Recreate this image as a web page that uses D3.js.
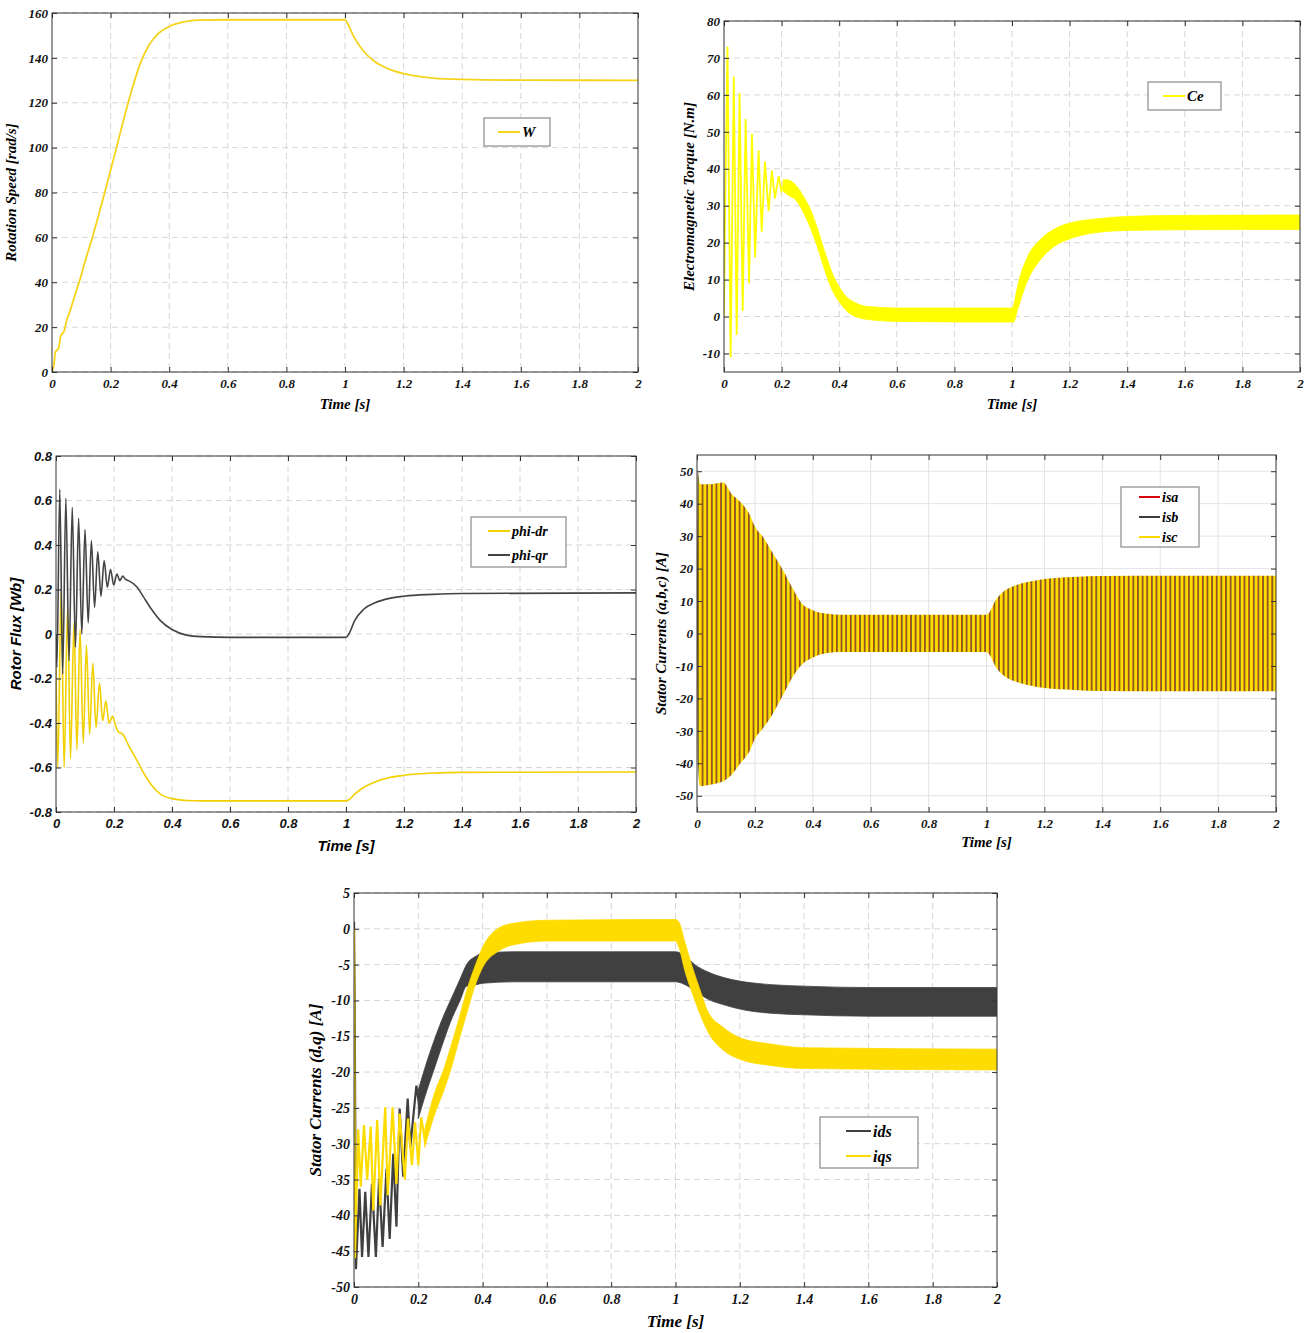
<!DOCTYPE html>
<html>
<head>
<meta charset="utf-8">
<script src="https://cdn.jsdelivr.net/npm/d3@7"></script>
<style>
  body { margin: 0; background: #fff; }
</style>
</head>
<body>
<script>
// tick values
var timeTicks = [0, 0.2, 0.4, 0.6, 0.8, 1, 1.2, 1.4, 1.6, 1.8, 2];
var speedTicks = [0, 20, 40, 60, 80, 100, 120, 140, 160];
var torqueTicks = [-10, 0, 10, 20, 30, 40, 50, 60, 70, 80];
var fluxTicks = [-0.8, -0.6, -0.4, -0.2, 0, 0.2, 0.4, 0.6, 0.8];
var iabcTicks = [-50, -40, -30, -20, -10, 0, 10, 20, 30, 40, 50];
var idqTicks = [-50, -45, -40, -35, -30, -25, -20, -15, -10, -5, 0, 5];

// rotation speed W [t, value]
var speedW = [[0,0],[0.006,3],[0.012,9],[0.022,10.5],[0.03,16],[0.042,18.5],[0.05,23],[0.06,26.5],[0.068,30],[0.08,35],
  [0.095,41],[0.11,48],[0.14,61],[0.18,80],[0.22,100],[0.26,120],[0.3,137],[0.33,145.5],[0.36,150.5],[0.4,154],
  [0.45,156],[0.5,156.8],[0.6,157],[1.0,157],[1.01,155],[1.03,149.5],[1.06,143.5],[1.1,138.5],[1.15,135],
  [1.2,133],[1.3,131],[1.4,130.4],[1.6,130.1],[2,130]];

// electromagnetic torque: start-up oscillation, then band [t, upper, lower]
var torqueStart = [[0,0],[0.004,30],[0.012,73],[0.023,-11],[0.034,65],[0.044,-5],[0.054,60.5],[0.065,1.5],
  [0.075,53.5],[0.087,9],[0.097,49.5],[0.108,16],[0.12,45],[0.131,23],[0.142,42],[0.155,28.5],[0.166,39.5],
  [0.177,32],[0.19,38],[0.199,34],[0.21,36]];
var torqueBand = [[0.205,37,34],[0.22,37,33],[0.25,35.5,31.5],[0.28,32,27.5],[0.3,29,24],[0.33,22.5,17.5],
  [0.35,17.5,12.5],[0.38,11,6.5],[0.4,8,4],[0.43,5,1.2],[0.45,4,0.2],[0.5,2.7,-0.8],[0.6,2.3,-1.3],[1.0,2.3,-1.5],
  [1.005,3,-1.5],[1.02,8.5,2],[1.05,15.5,9],[1.1,21,15.5],[1.15,23.8,19.2],[1.2,25.3,21],[1.3,26.5,22.8],
  [1.4,27.1,23.3],[1.6,27.4,23.5],[2,27.5,23.6]];

// rotor flux
var phiQr = [[0,0],[0.003,-0.15],[0.013,0.65],[0.023,-0.18],[0.034,0.61],[0.045,-0.12],[0.056,0.57],[0.067,-0.06],
  [0.078,0.52],[0.089,0.0],[0.1,0.47],[0.111,0.05],[0.122,0.42],[0.133,0.12],[0.144,0.37],[0.155,0.17],
  [0.166,0.33],[0.177,0.21],[0.188,0.29],[0.199,0.22],[0.21,0.27],[0.22,0.24],[0.23,0.26],[0.24,0.245],
  [0.25,0.24],[0.28,0.21],[0.3,0.17],[0.33,0.11],[0.36,0.06],[0.4,0.02],[0.45,-0.005],[0.5,-0.012],[0.6,-0.015],
  [1.0,-0.015],[1.01,0.0],[1.03,0.06],[1.06,0.11],[1.1,0.14],[1.15,0.16],[1.2,0.17],[1.3,0.178],[1.4,0.182],[2,0.185]];
var phiDr = [[0,-0.15],[0.006,-0.6],[0.018,0.2],[0.028,-0.6],[0.04,0.12],[0.05,-0.56],[0.062,0.05],[0.072,-0.52],
  [0.083,0.02],[0.094,-0.49],[0.105,-0.05],[0.116,-0.45],[0.127,-0.13],[0.138,-0.42],[0.15,-0.22],[0.161,-0.39],
  [0.172,-0.3],[0.183,-0.4],[0.195,-0.37],[0.205,-0.41],[0.215,-0.44],[0.23,-0.45],[0.25,-0.5],[0.28,-0.57],
  [0.3,-0.62],[0.33,-0.68],[0.36,-0.72],[0.4,-0.74],[0.45,-0.748],[0.5,-0.75],[1.0,-0.75],[1.01,-0.745],
  [1.03,-0.72],[1.06,-0.69],[1.1,-0.665],[1.15,-0.645],[1.2,-0.635],[1.3,-0.625],[1.4,-0.622],[2,-0.62]];

// stator currents a,b,c : envelope [t, upper, lower]
var iabcEnvelope = [[0,18,-3],[0.003,50,-40],[0.01,46,-47],[0.05,46,-46.5],[0.09,46.5,-45.5],[0.12,43,-43.5],
  [0.15,40.5,-40],[0.18,37,-36.5],[0.2,33,-32.5],[0.23,29.5,-29],[0.26,25,-25],[0.3,19,-18.5],[0.33,14,-13.5],
  [0.36,9.5,-9.8],[0.4,7.2,-7.4],[0.45,6.1,-6],[0.5,5.8,-5.7],[1.0,5.8,-5.7],[1.01,6.5,-6.5],[1.03,10,-10],
  [1.06,13,-13],[1.1,14.8,-14.8],[1.15,16,-16],[1.2,16.8,-16.8],[1.3,17.4,-17.4],[1.4,17.7,-17.7],
  [1.6,17.8,-17.8],[2,17.8,-17.8]];

// stator currents d,q
var idsStart = [[0,1],[0.002,-10],[0.006,-47.5],[0.017,-36.3],[0.025,-45.8],[0.035,-36.7],[0.045,-45.8],
  [0.056,-35.6],[0.068,-45.8],[0.078,-34.9],[0.089,-44.4],[0.101,-33.5],[0.111,-43.3],[0.122,-31.4],
  [0.132,-41.6],[0.142,-25.1],[0.153,-34.6],[0.167,-23.7],[0.175,-30.5],[0.194,-21.9],[0.204,-25]];
var idsBand = [[0.2,-22.5,-26.5],[0.22,-19.5,-23.5],[0.25,-15.5,-19.5],[0.28,-12,-15.5],[0.3,-10,-13],
  [0.33,-7,-10],[0.35,-5,-8],[0.38,-3.8,-7.8],[0.4,-3.4,-7.6],[0.5,-3.2,-7.4],[1.0,-3.2,-7.4],[1.03,-3.8,-7.8],
  [1.06,-5,-8.6],[1.1,-6,-9.8],[1.15,-6.8,-10.6],[1.2,-7.3,-11.2],[1.3,-7.8,-11.8],[1.4,-8,-12],
  [1.6,-8.2,-12.2],[2,-8.2,-12.2]];
var iqsStart = [[0,0],[0.001,-20],[0.003,-46],[0.013,-28],[0.021,-36],[0.031,-27.4],[0.041,-35],[0.052,-27.6],
  [0.06,-39.3],[0.072,-26.7],[0.082,-38.6],[0.097,-24.9],[0.105,-37.2],[0.12,-24.9],[0.132,-35.6],
  [0.142,-25.8],[0.158,-35],[0.168,-26.5],[0.18,-33],[0.19,-27],[0.2,-33],[0.209,-26.3],[0.222,-30]];
var iqsBand = [[0.22,-28,-30.5],[0.25,-23,-26],[0.28,-19.5,-22.5],[0.3,-16.6,-19.8],[0.33,-12,-15],
  [0.35,-8.7,-11.9],[0.38,-4.8,-7.5],[0.4,-2.6,-5.4],[0.45,0.1,-3.1],[0.5,0.8,-2.2],[0.6,1.2,-1.7],
  [1.0,1.3,-1.7],[1.01,1,-2.5],[1.03,-2,-6],[1.05,-5,-8.7],[1.08,-9,-12.3],[1.1,-11.5,-14.3],
  [1.15,-13.8,-17],[1.2,-15.2,-18.2],[1.3,-16.1,-19.1],[1.4,-16.6,-19.5],[2,-16.8,-19.7]];

var width = 1313, height = 1333;
var serif = "'Liberation Serif', 'Times New Roman', serif";
var sans = "'Liberation Sans', Arial, sans-serif";

var svg = d3.select('body').append('svg')
  .attr('width', width)
  .attr('height', height);
var defs = svg.append('defs');

// draws frame, grid, ticks and labels; returns scales and a clipped group
function panel(cfg) {
  var x = d3.scaleLinear().domain([0, 2]).range([cfg.left, cfg.right]);
  var y = d3.scaleLinear().domain(cfg.yDomain).range([cfg.bottom, cfg.top]);
  var g = svg.append('g');

  var grid = g.append('g')
    .attr('stroke', cfg.solidGrid ? '#e4e4e4' : '#d6d6d6')
    .attr('stroke-dasharray', cfg.solidGrid ? null : '6,4');
  grid.selectAll('.vx').data(timeTicks.slice(1, -1)).enter().append('line')
    .attr('x1', function(d) { return x(d); }).attr('x2', function(d) { return x(d); })
    .attr('y1', cfg.top).attr('y2', cfg.bottom);
  grid.selectAll('.hy').data(cfg.yTicks).enter().append('line')
    .attr('y1', function(d) { return y(d); }).attr('y2', function(d) { return y(d); })
    .attr('x1', cfg.left).attr('x2', cfg.right);

  var id = 'clip' + cfg.name;
  defs.append('clipPath').attr('id', id).append('rect')
    .attr('x', cfg.left).attr('y', cfg.top)
    .attr('width', cfg.right - cfg.left).attr('height', cfg.bottom - cfg.top);
  var plot = g.append('g').attr('clip-path', 'url(#' + id + ')');

  var axes = g.append('g');
  var fmt = function(d) { return String(d); };
  axes.append('g').attr('transform', 'translate(0,' + cfg.bottom + ')')
    .call(d3.axisBottom(x).tickValues(timeTicks).tickFormat(fmt).tickSize(-5).tickPadding(7));
  axes.append('g').attr('transform', 'translate(' + cfg.left + ',0)')
    .call(d3.axisLeft(y).tickValues(cfg.yTicks).tickFormat(fmt).tickSize(-5).tickPadding(4));
  axes.append('g').attr('transform', 'translate(0,' + cfg.top + ')')
    .call(d3.axisTop(x).tickValues(timeTicks).tickFormat('').tickSize(-5));
  axes.append('g').attr('transform', 'translate(' + cfg.right + ',0)')
    .call(d3.axisRight(y).tickValues(cfg.yTicks).tickFormat('').tickSize(-5));
  axes.selectAll('.domain').remove();
  axes.selectAll('.tick line').attr('stroke', '#333');
  axes.selectAll('text')
    .style('font-family', cfg.font).style('font-weight', 'bold').style('font-style', 'italic')
    .style('font-size', cfg.tickSize + 'px').attr('fill', '#111');

  g.append('rect')
    .attr('x', cfg.left).attr('y', cfg.top)
    .attr('width', cfg.right - cfg.left).attr('height', cfg.bottom - cfg.top)
    .attr('fill', 'none').attr('stroke', '#333').attr('stroke-width', 1);

  g.append('text')
    .attr('x', (cfg.left + cfg.right) / 2).attr('y', cfg.bottom + cfg.xLabelDy)
    .attr('text-anchor', 'middle')
    .style('font-family', cfg.font).style('font-weight', 'bold').style('font-style', 'italic')
    .style('font-size', cfg.labelSize + 'px')
    .text('Time [s]');
  g.append('text')
    .attr('transform', 'translate(' + cfg.yLabelX + ',' + (cfg.top + cfg.bottom) / 2 + ') rotate(-90)')
    .attr('text-anchor', 'middle')
    .style('font-family', cfg.font).style('font-weight', 'bold').style('font-style', 'italic')
    .style('font-size', cfg.labelSize + 'px')
    .text(cfg.yLabel);

  return { x: x, y: y, plot: plot, g: g };
}

function legend(p, box, items, font, size) {
  var lg = p.g.append('g');
  lg.append('rect')
    .attr('x', box[0]).attr('y', box[1]).attr('width', box[2]).attr('height', box[3])
    .attr('fill', '#fff').attr('stroke', '#8a8a8a').attr('stroke-width', 1.2);
  items.forEach(function(it, i) {
    var yy = box[1] + box[4] + i * box[5];
    lg.append('line')
      .attr('x1', box[0] + box[6]).attr('x2', box[0] + box[6] + box[7])
      .attr('y1', yy).attr('y2', yy)
      .attr('stroke', it.color).attr('stroke-width', 2);
    lg.append('text')
      .attr('x', box[0] + box[6] + box[7] + 2).attr('y', yy + size * 0.35)
      .style('font-family', font).style('font-weight', 'bold').style('font-style', 'italic')
      .style('font-size', size + 'px')
      .text(it.name);
  });
}

function lineOf(p, curve) {
  return d3.line()
    .x(function(d) { return p.x(d[0]); })
    .y(function(d) { return p.y(d[1]); })
    .curve(curve || d3.curveLinear);
}
function bandOf(p) {
  return d3.area()
    .x(function(d) { return p.x(d[0]); })
    .y0(function(d) { return p.y(d[2]); })
    .y1(function(d) { return p.y(d[1]); })
    .curve(d3.curveMonotoneX);
}

// ---- Panel 1: rotation speed
var p1 = panel({ name: 'w', left: 52, right: 638, top: 13, bottom: 372, yDomain: [0, 160], yTicks: speedTicks,
  font: serif, tickSize: 13, labelSize: 15, xLabelDy: 37, yLabelX: 16, yLabel: 'Rotation Speed [rad/s]' });
p1.plot.append('path').datum(speedW)
  .attr('d', lineOf(p1, d3.curveMonotoneX))
  .attr('fill', 'none').attr('stroke', '#f7d41c').attr('stroke-width', 1.8);
legend(p1, [484, 118, 66, 28, 14, 0, 14, 22], [{ name: 'W', color: '#f7d41c' }], serif, 15);

// ---- Panel 2: electromagnetic torque
var p2 = panel({ name: 'ce', left: 724, right: 1300, top: 21, bottom: 372, yDomain: [-15, 80], yTicks: torqueTicks,
  font: serif, tickSize: 13, labelSize: 15, xLabelDy: 37, yLabelX: 694, yLabel: 'Electromagnetic Torque [N.m]' });
p2.plot.append('path').datum(torqueStart)
  .attr('d', lineOf(p2))
  .attr('fill', 'none').attr('stroke', '#ffff00').attr('stroke-width', 1.8);
p2.plot.append('path').datum(torqueBand)
  .attr('d', bandOf(p2))
  .attr('fill', '#ffff00').attr('stroke', '#ffff00').attr('stroke-width', 0.8);
legend(p2, [1148, 82, 73, 28, 14, 0, 15, 22], [{ name: 'Ce', color: '#ffff00' }], serif, 15);

// ---- Panel 3: rotor flux
var p3 = panel({ name: 'phi', left: 56, right: 636, top: 456, bottom: 812, yDomain: [-0.8, 0.8], yTicks: fluxTicks,
  font: sans, tickSize: 13, labelSize: 15, xLabelDy: 39, yLabelX: 21, yLabel: 'Rotor Flux [Wb]' });
p3.plot.append('path').datum(phiDr)
  .attr('d', lineOf(p3, d3.curveMonotoneX))
  .attr('fill', 'none').attr('stroke', '#f2d000').attr('stroke-width', 1.6);
p3.plot.append('path').datum(phiQr)
  .attr('d', lineOf(p3, d3.curveMonotoneX))
  .attr('fill', 'none').attr('stroke', '#444').attr('stroke-width', 1.6);
legend(p3, [471, 517, 95, 50, 14, 24, 17, 22],
  [{ name: 'phi-dr', color: '#f2d000' }, { name: 'phi-qr', color: '#444' }], serif, 14);

// ---- Panel 4: stator currents a,b,c
var p4 = panel({ name: 'abc', left: 697, right: 1276, top: 455, bottom: 812, yDomain: [-55, 55], yTicks: iabcTicks,
  font: serif, tickSize: 13, labelSize: 15, xLabelDy: 35, yLabelX: 666, yLabel: 'Stator Currents (a,b,c) [A]',
  solidGrid: true });
var period = p4.x(0.016) - p4.x(0);
var pat = defs.append('pattern').attr('id', 'phases')
  .attr('patternUnits', 'userSpaceOnUse')
  .attr('width', period).attr('height', 10)
  .attr('patternTransform', 'translate(' + p4.x(0) + ',0)');
pat.append('rect').attr('width', period).attr('height', 10).attr('fill', '#ffdc00');
pat.append('rect').attr('x', 0).attr('width', period * 0.14).attr('height', 10).attr('fill', '#dd0a0a');
pat.append('rect').attr('x', period * 0.14).attr('width', period * 0.2).attr('height', 10).attr('fill', '#3a3a3a');
p4.plot.append('path').datum(iabcEnvelope)
  .attr('d', bandOf(p4))
  .attr('fill', 'url(#phases)');
legend(p4, [1121, 487, 78, 60, 10, 20, 18, 21],
  [{ name: 'isa', color: '#d8000c' }, { name: 'isb', color: '#3c3c3c' }, { name: 'isc', color: '#fad900' }], serif, 14);

// ---- Panel 5: stator currents d,q
var p5 = panel({ name: 'dq', left: 354, right: 997, top: 893, bottom: 1287, yDomain: [-50, 5], yTicks: idqTicks,
  font: serif, tickSize: 14, labelSize: 17, xLabelDy: 40, yLabelX: 321, yLabel: 'Stator Currents (d,q) [A]' });
p5.plot.append('path').datum(idsStart)
  .attr('d', lineOf(p5))
  .attr('fill', 'none').attr('stroke', '#404040').attr('stroke-width', 2.2);
p5.plot.append('path').datum(idsBand)
  .attr('d', bandOf(p5))
  .attr('fill', '#404040').attr('stroke', '#404040').attr('stroke-width', 0.8);
p5.plot.append('path').datum(iqsStart)
  .attr('d', lineOf(p5))
  .attr('fill', 'none').attr('stroke', '#ffdc00').attr('stroke-width', 2.2);
p5.plot.append('path').datum(iqsBand)
  .attr('d', bandOf(p5))
  .attr('fill', '#ffdc00').attr('stroke', '#ffdc00').attr('stroke-width', 0.8);
legend(p5, [820, 1117, 98, 51, 14, 25, 26, 25],
  [{ name: 'ids', color: '#404040' }, { name: 'iqs', color: '#ffdc00' }], serif, 16);
</script>
</body>
</html>
